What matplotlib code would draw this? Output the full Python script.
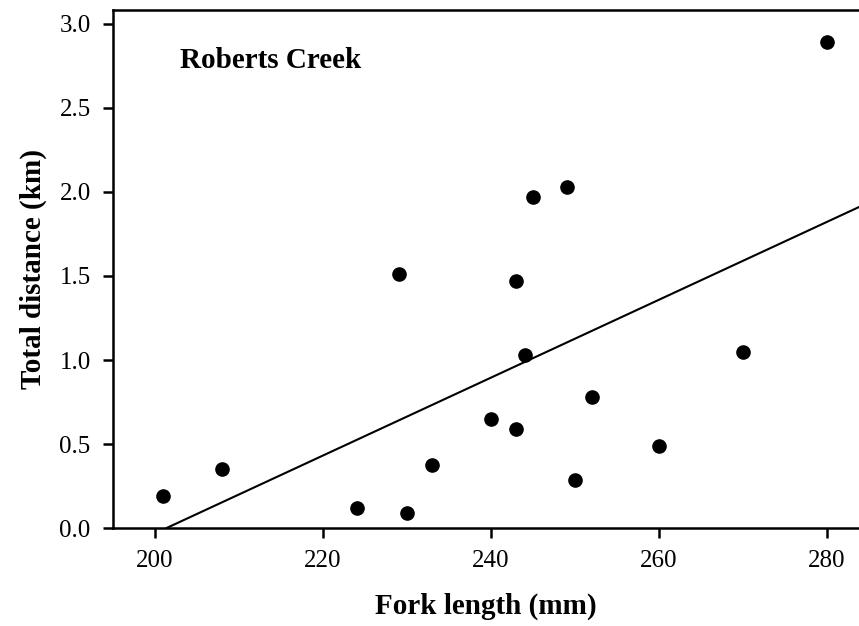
import matplotlib.pyplot as plt

# data
fork_length = [201, 208, 224, 230, 233, 240, 243, 243, 244, 245, 249,
               250, 252, 260, 270, 229, 280]
total_distance = [0.19, 0.35, 0.12, 0.09, 0.375, 0.65, 0.59, 1.47, 1.03, 1.97, 2.03,
                  0.286, 0.78, 0.49, 1.05, 1.51, 2.89]

# regression line
slope = 0.02318
intercept = -4.668
line_x = [201.4, 284.5]

plt.rcParams['font.family'] = ['Liberation Serif', 'DejaVu Serif']

fig = plt.figure(figsize=(8.59, 6.26), dpi=100)
ax = fig.add_axes([0.1315, 0.1565, 0.8685, 0.8275])

ax.plot(fork_length, total_distance, 'o', color='black', markersize=9.5)
ax.plot(line_x, [intercept + slope * x for x in line_x], color='black', linewidth=1.5)

ax.set_xlim(195, 283.8)
ax.set_ylim(0, 3.083)
ax.set_xticks([200, 220, 240, 260, 280])
ax.set_yticks([0.0, 0.5, 1.0, 1.5, 2.0, 2.5, 3.0])
ax.set_yticklabels(['0.0', '0.5', '1.0', '1.5', '2.0', '2.5', '3.0'])

ax.spines['right'].set_visible(False)
for s in ['left', 'bottom', 'top']:
    ax.spines[s].set_linewidth(1.8)
ax.tick_params(direction='out', length=7, width=1.8, labelsize=18, pad=9)

ax.set_xlabel('Fork length (mm)', fontsize=21, fontweight='bold', labelpad=15)
ax.set_ylabel('Total distance (km)', fontsize=21, fontweight='bold', labelpad=9)
ax.text(0.09, 0.888, 'Roberts Creek', transform=ax.transAxes, fontsize=21,
        fontweight='bold', va='baseline')

fig.savefig('out.png', dpi=100)
